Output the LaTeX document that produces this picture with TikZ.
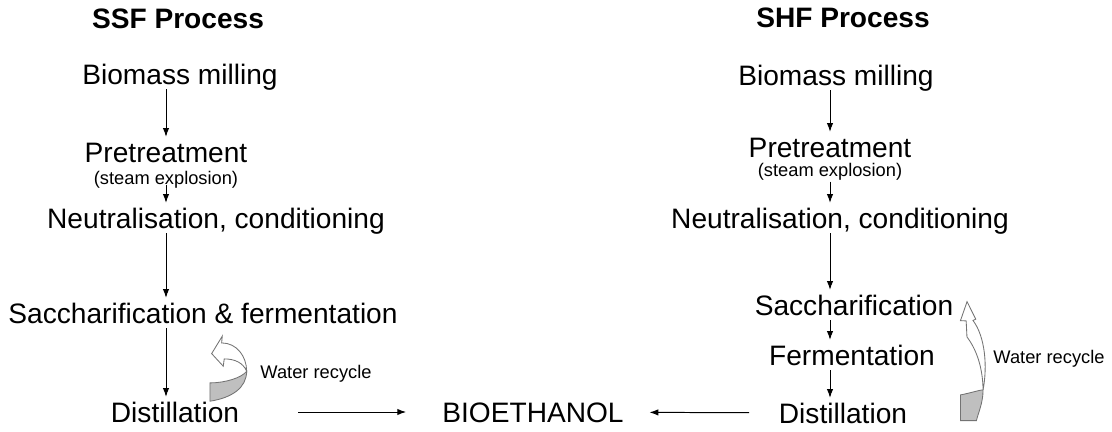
\documentclass[tikz,border=0pt]{standalone}
\usepackage{fontspec}
\setmainfont{Liberation Sans}
\usetikzlibrary{arrows.meta}

\begin{document}
\begin{tikzpicture}[
flow/.style={draw,line width=0.7pt,-{Latex[length=2.2mm,width=1.6mm]}},
stage/.style={font=\fontsize{20}{24}\selectfont,inner sep=0.12cm,text height=14.3pt,text depth=0pt},
note/.style={font=\fontsize{13}{15}\selectfont,inner sep=0.12cm,text height=9.3pt,text depth=0pt},
title/.style={font=\bfseries\fontsize{20}{24}\selectfont,inner sep=0.12cm},
front/.style={draw=black!55,line width=0.6pt,fill=white},
back/.style={draw=black!55,line width=0.6pt,fill=black!25},
px/.style={x=0.025cm,y=-0.025cm},
]
\useasboundingbox (0,0) rectangle (27.8,-10.8);

%titles
\node[title] (ssf) at (4.45,-0.475) {SSF Process};
\node[title] (shf) at (21.075,-0.45) {SHF Process};

%SSF chain
\node[stage] (bm1) at (4.5,-1.85) {Biomass milling};
\node[stage] (pt1) at (4.15,-3.8) {Pretreatment};
	\node[note] (se1) at (4.15,-4.45) {(steam explosion)};
\node[stage] (nc1) at (5.4,-5.45) {Neutralisation, conditioning};
\node[stage] (sf1) at (5.075,-7.825) {Saccharification \& fermentation};
\node[stage] (di1) at (4.375,-10.3) {Distillation};

%SHF chain
\node[stage] (bm2) at (20.9,-1.875) {Biomass milling};
\node[stage] (pt2) at (20.75,-3.675) {Pretreatment};
	\node[note] (se2) at (20.75,-4.25) {(steam explosion)};
\node[stage] (nc2) at (21,-5.45) {Neutralisation, conditioning};
\node[stage] (sa2) at (21.35,-7.625) {Saccharification};
\node[stage] (fe2) at (21.3,-8.875) {Fermentation};
\node[stage] (di2) at (21.075,-10.325) {Distillation};

\node[stage] (bio) at (13.325,-10.3) {BIOETHANOL};

\path[flow] (bm1.south -| pt1) -- (pt1.north);
\path[flow] (se1.base) -- (nc1.north -| se1);
\path[flow] (nc1.south -| se1) -- (sf1.north -| se1);
\path[flow] (sf1.south -| se1) -- (di1.north -| se1);

\path[flow] (bm2.south -| pt2) -- (pt2.north);
\path[flow] (se2.south) -- (nc2.north -| se2);
\path[flow] (nc2.south -| pt2) -- (sa2.north -| pt2);
\path[flow] (sa2.south -| pt2) -- (fe2.north -| pt2);
\path[flow] (fe2.south -| pt2) -- (di2.north -| pt2);

\path[flow,shorten <=1.35cm,shorten >=0.78cm] (di1) -- (bio);
\path[flow,shorten <=0.62cm,shorten >=0.52cm] (di2) -- (bio);

%water recycle, SSF side
\begin{scope}[px,shift={(205,333)}]
\path[back] (41.7,38.3) .. controls (41.7,55) and (26.7,65) .. (5,68.3)
	-- (5,50) .. controls (20,50) and (36.7,45) .. (41.7,38.3) -- cycle;
\path[front] (6.7,20.7) -- (17.3,3.3) -- (16.7,10)
	.. controls (31.7,10) and (41.7,23.3) .. (41.7,38.3)
	.. controls (38.3,30) and (30,26) .. (19.3,26)
	-- (18.3,33.3) -- cycle;
\end{scope}
\node[note] (wr1) at (7.9,-9.3) {Water recycle};

%water recycle, SHF side
\begin{scope}[px,shift={(930,290)}]
\path[back] (53.3,100) .. controls (53.3,113.3) and (48.3,123.3) .. (46.7,130.7)
	-- (30.7,130.7) -- (30.7,105) .. controls (40,103.3) and (50,100) .. (53.3,100) -- cycle;
\path[front] (37.3,11.7) -- (46,29.3) -- (43.2,30.5)
	.. controls (55.5,46.7) and (57.8,76.7) .. (53.3,100)
	.. controls (53,78) and (47,60) .. (37.2,47)
	-- (36.4,31) -- (30.7,30.7) -- cycle;
\end{scope}
\node[note] (wr2) at (26.225,-8.925) {Water recycle};

\end{tikzpicture}
\end{document}
